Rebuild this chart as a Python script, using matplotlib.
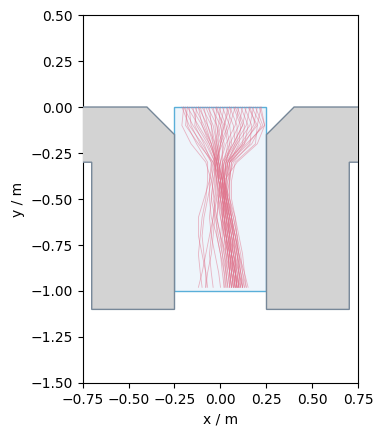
import matplotlib
matplotlib.use("Agg")
import matplotlib.pyplot as plt
from matplotlib.patches import Polygon, Rectangle
import numpy as np

# obstacle outlines (left one, the right one is mirrored)
obst_x = [-0.8, -0.4, -0.25, -0.25, -0.7, -0.7, -0.8]
obst_y = [0.0, 0.0, -0.15, -1.1, -1.1, -0.3, -0.3]

# measurement area
area_x = [-0.25, 0.25]
area_y = [-1.0, 0.0]

# trajectories: x positions read at fixed y levels
y_levels = [0.0, -0.1, -0.2, -0.3, -0.4, -0.5, -0.6, -0.7, -0.8, -0.9, -0.98]
traj_x = [
    [-0.21, -0.17, -0.10, -0.04, -0.02, 0.00, 0.02, 0.03, 0.05, 0.06, 0.07],
    [-0.20, -0.15, -0.08, -0.03, -0.03, -0.02, 0.00, 0.02, 0.03, 0.04, 0.05],
    [-0.19, -0.18, -0.13, -0.07, -0.07, -0.08, -0.10, -0.11, -0.12, -0.11, -0.10],
    [-0.18, -0.12, -0.06, -0.02, -0.01, 0.02, 0.04, 0.06, 0.08, 0.09, 0.10],
    [-0.17, -0.16, -0.11, -0.05, -0.04, -0.05, -0.06, -0.05, -0.03, -0.01, 0.00],
    [-0.16, -0.10, -0.05, -0.02, 0.00, 0.01, 0.03, 0.05, 0.07, 0.10, 0.12],
    [-0.15, -0.13, -0.07, -0.03, -0.02, -0.01, 0.01, 0.01, 0.02, 0.03, 0.03],
    [-0.14, -0.09, -0.05, -0.03, -0.03, -0.04, -0.02, 0.00, 0.03, 0.05, 0.06],
    [-0.13, -0.14, -0.09, -0.05, -0.06, -0.09, -0.12, -0.12, -0.10, -0.08, -0.07],
    [-0.12, -0.07, -0.04, -0.01, 0.01, 0.03, 0.05, 0.07, 0.09, 0.11, 0.13],
    [-0.11, -0.08, -0.05, -0.02, -0.01, 0.00, 0.01, 0.03, 0.04, 0.06, 0.08],
    [-0.10, -0.05, -0.03, -0.02, -0.01, 0.02, 0.04, 0.05, 0.05, 0.06, 0.07],
    [-0.09, -0.07, -0.03, -0.01, 0.00, -0.01, -0.02, -0.02, 0.00, 0.02, 0.03],
    [-0.08, -0.04, -0.02, 0.00, 0.02, 0.04, 0.06, 0.08, 0.10, 0.12, 0.14],
    [-0.07, -0.02, 0.01, 0.01, 0.01, 0.01, 0.02, 0.04, 0.06, 0.08, 0.09],
    [-0.06, -0.05, -0.04, -0.03, -0.02, -0.01, 0.00, 0.02, 0.04, 0.05, 0.06],
    [-0.05, 0.00, 0.02, 0.00, -0.02, -0.03, -0.03, -0.04, -0.05, -0.07, -0.08],
    [-0.04, -0.02, -0.01, -0.01, 0.00, 0.02, 0.03, 0.03, 0.04, 0.05, 0.05],
    [-0.03, 0.02, 0.04, 0.02, 0.01, 0.02, 0.04, 0.06, 0.07, 0.09, 0.10],
    [-0.02, -0.03, -0.02, -0.01, 0.01, 0.03, 0.03, 0.04, 0.06, 0.07, 0.08],
    [-0.01, 0.03, 0.05, 0.03, 0.02, 0.03, 0.05, 0.07, 0.08, 0.08, 0.09],
    [0.00, -0.01, -0.03, -0.03, -0.01, 0.00, 0.02, 0.02, 0.03, 0.03, 0.04],
    [0.01, 0.05, 0.06, 0.03, 0.02, 0.02, 0.01, 0.00, 0.01, 0.02, 0.02],
    [0.02, 0.00, -0.02, -0.02, 0.00, 0.01, 0.03, 0.05, 0.06, 0.08, 0.11],
    [0.03, 0.07, 0.08, 0.04, 0.03, 0.04, 0.06, 0.08, 0.10, 0.11, 0.12],
    [0.04, 0.02, 0.00, -0.01, 0.01, 0.02, 0.02, 0.03, 0.05, 0.06, 0.07],
    [0.05, 0.09, 0.09, 0.04, 0.03, 0.03, 0.05, 0.07, 0.09, 0.10, 0.11],
    [0.06, 0.04, 0.00, -0.02, -0.01, 0.01, 0.04, 0.06, 0.07, 0.08, 0.09],
    [0.07, 0.11, 0.10, 0.05, 0.04, 0.02, 0.01, 0.02, 0.04, 0.05, 0.06],
    [0.08, 0.05, 0.01, -0.03, -0.05, -0.07, -0.09, -0.10, -0.09, -0.08, -0.08],
    [0.09, 0.13, 0.12, 0.05, 0.05, 0.05, 0.07, 0.09, 0.11, 0.12, 0.13],
    [0.10, 0.08, 0.03, 0.00, 0.01, 0.03, 0.05, 0.06, 0.08, 0.08, 0.09],
    [0.11, 0.15, 0.13, 0.06, 0.05, 0.03, 0.03, 0.04, 0.05, 0.07, 0.08],
    [0.12, 0.10, 0.05, 0.01, 0.02, 0.04, 0.07, 0.09, 0.10, 0.10, 0.11],
    [0.13, 0.17, 0.16, 0.07, 0.04, 0.04, 0.04, 0.05, 0.06, 0.08, 0.09],
    [0.14, 0.12, 0.07, 0.02, 0.00, 0.01, 0.02, 0.04, 0.06, 0.07, 0.08],
    [0.15, 0.20, 0.19, 0.08, 0.06, 0.06, 0.08, 0.10, 0.12, 0.13, 0.14],
    [0.16, 0.14, 0.08, 0.02, 0.00, -0.02, -0.04, -0.05, -0.06, -0.05, -0.04],
    [0.17, 0.22, 0.17, 0.06, 0.05, 0.05, 0.06, 0.08, 0.10, 0.13, 0.15],
    [0.18, 0.16, 0.09, 0.03, 0.02, 0.03, 0.04, 0.05, 0.07, 0.09, 0.10],
    [0.19, 0.23, 0.15, 0.05, 0.03, 0.01, 0.02, 0.03, 0.05, 0.06, 0.07],
    [0.20, 0.18, 0.11, 0.04, 0.02, 0.04, 0.06, 0.07, 0.08, 0.10, 0.12],
    [0.21, 0.24, 0.14, 0.05, 0.03, 0.02, 0.03, 0.05, 0.06, 0.07, 0.08],
    [0.22, 0.20, 0.12, 0.04, 0.01, 0.00, 0.01, 0.03, 0.04, 0.05, 0.06],
    [-0.20, -0.21, -0.16, -0.08, -0.05, -0.03, -0.04, -0.06, -0.08, -0.10, -0.12],
    [0.05, 0.02, -0.01, -0.04, -0.06, -0.06, -0.05, -0.02, 0.00, 0.01, 0.02],
    [-0.18, -0.19, -0.12, -0.04, 0.00, 0.03, 0.06, 0.07, 0.06, 0.08, 0.10],
    [0.22, 0.24, 0.20, 0.09, 0.02, -0.01, -0.02, 0.00, 0.02, 0.04, 0.05],
    [-0.12, -0.10, -0.06, -0.02, 0.01, 0.04, 0.05, 0.04, 0.05, 0.07, 0.09],
    [0.08, 0.12, 0.07, 0.01, 0.02, 0.05, 0.08, 0.09, 0.09, 0.11, 0.12],
    [-0.02, 0.01, 0.00, -0.02, -0.04, -0.05, -0.03, -0.01, 0.01, 0.03, 0.04],
    [0.16, 0.19, 0.13, 0.03, 0.01, 0.02, 0.05, 0.08, 0.09, 0.10, 0.10],
]

fig = plt.figure(figsize=(3.84, 4.37), dpi=100)
ax = fig.add_axes([0.2135, 0.1236, 0.7214, 0.842])

ax.add_patch(Rectangle((area_x[0], area_y[0]), area_x[1] - area_x[0], area_y[1] - area_y[0],
                       facecolor='#eef5fb', edgecolor='#5aafd9', lw=1.0, zorder=1))

for tx in traj_x:
    ax.plot(tx, y_levels, color='#e0718a', alpha=0.5, lw=0.6, zorder=2)

for sign in [1, -1]:
    pts = np.column_stack([sign * np.array(obst_x), obst_y])
    ax.add_patch(Polygon(pts, closed=True, facecolor='lightgray', edgecolor='#778899',
                         lw=1.0, zorder=3))

ax.set_xlim(-0.75, 0.75)
ax.set_ylim(-1.5, 0.5)
ax.set_aspect('equal')
ax.set_xticks(np.arange(-0.75, 0.76, 0.25))
ax.set_yticks(np.arange(-1.5, 0.51, 0.25))
ax.set_xlabel('x / m')
ax.set_ylabel('y / m')

fig.savefig('out.png', dpi=100)
